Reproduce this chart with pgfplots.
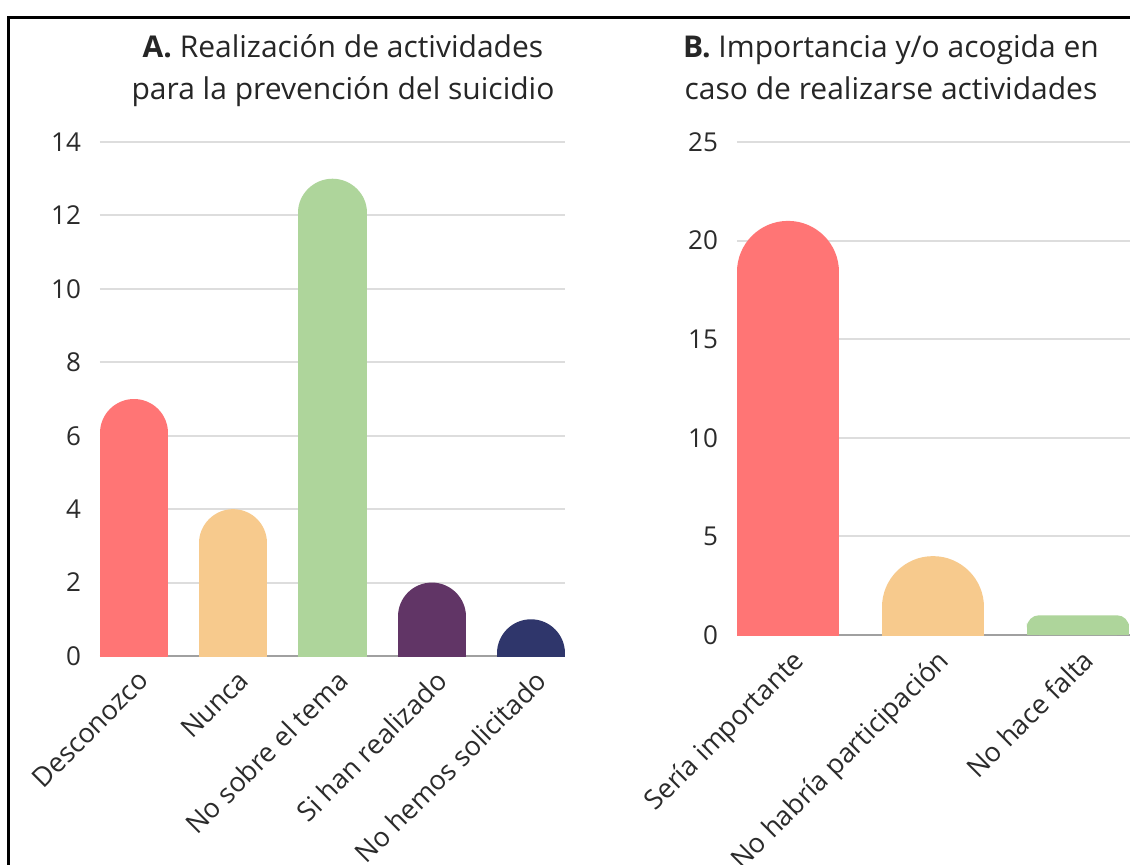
\documentclass[border=0pt]{standalone}
\usepackage{fontspec}
\setmainfont{Open Sans}
\usepackage{pgfplots}
\pgfplotsset{compat=1.18}
\definecolor{cRed}{HTML}{FF7575}
\definecolor{cOrange}{HTML}{F7CA8D}
\definecolor{cGreen}{HTML}{AED59B}
\definecolor{cPurple}{HTML}{613566}
\definecolor{cNavy}{HTML}{2F366B}
\definecolor{cText}{HTML}{2B2B2B}
\definecolor{cGrid}{HTML}{DDDDDD}
\definecolor{cAxis}{HTML}{A0A0A0}
\pgfplotsset{
  mystyle/.style={
    scale only axis,
    ymin=0,
    axis lines*=left,
    axis line style={-},
    y axis line style={draw=none},
    x axis line style={draw=cAxis, line width=1pt},
    ymajorgrids, grid style={draw=cGrid, line width=1pt},
    major tick length=0pt,
    tick style={draw=none},
    /pgf/number format/assume math mode=true,
    yticklabel style={font=\fontsize{13}{15}\selectfont, text=cText, xshift=-6pt},
    xticklabel style={rotate=45, anchor=north east, font=\fontsize{13.5}{15}\selectfont, text=cText, yshift=-2pt},
    enlargelimits=false,
    clip=true,
  }
}
\begin{document}
\begin{tikzpicture}
\path[use as bounding box, clip] (0,0) rectangle (565pt,432pt);
\fill[white] (0,0) rectangle (565pt,432pt);
\draw[black, line width=1.5pt] (4pt,-2pt) -- (4pt,423pt) -- (570pt,423pt);
% titles
\node[anchor=base, font=\fontsize{15}{18}\selectfont, text=black!85] at (171.5pt,403pt) {\textbf{A.} Realización de actividades};
\node[anchor=base, font=\fontsize{15}{18}\selectfont, text=black!85] at (171.5pt,382pt) {para la prevención del suicidio};
\node[anchor=base, font=\fontsize{15}{18}\selectfont, text=black!85] at (445.5pt,403pt) {\textbf{B.} Importancia y/o acogida en};
\node[anchor=base, font=\fontsize{15}{18}\selectfont, text=black!85] at (445.5pt,382pt) {caso de realizarse actividades};

\begin{axis}[mystyle,
  width=232.5pt, height=257pt,
  at={(50pt,104pt)}, anchor=south west,
  xmin=-0.343, xmax=4.343, ymax=14,
  ytick={0,2,...,14}, xtick={0,1,2,3,4},
  xticklabels={Desconozco,Nunca,No sobre el tema,Si han realizado,No hemos solicitado},
]
\addplot[ycomb, mark=none, draw=cRed, line width=34pt, line cap=round, yshift=-17pt] coordinates {(0,7)};
\addplot[ycomb, mark=none, draw=cOrange, line width=34pt, line cap=round, yshift=-17pt] coordinates {(1,4)};
\addplot[ycomb, mark=none, draw=cGreen, line width=34pt, line cap=round, yshift=-17pt] coordinates {(2,13)};
\addplot[ycomb, mark=none, draw=cPurple, line width=34pt, line cap=round, yshift=-17pt] coordinates {(3,2)};
\addplot[ycomb, mark=none, draw=cNavy, line width=34pt, line cap=round, yshift=-17pt] coordinates {(4,1)};
\end{axis}

\begin{axis}[mystyle,
  width=196.5pt, height=246.5pt,
  at={(368.5pt,114.5pt)}, anchor=south west,
  xmin=-0.352, xmax=2.359, ymax=25,
  ytick={0,5,...,25}, xtick={0,1,2},
  xticklabels={Sería importante,No habría participación,No hace falta},
]
\addplot[ycomb, mark=none, draw=cRed, line width=51pt, line cap=round, yshift=-25.5pt] coordinates {(0,21)};
\addplot[ycomb, mark=none, draw=cOrange, line width=51pt, line cap=round, yshift=-25.5pt] coordinates {(1,4)};
\addplot[ybar, bar width=51pt, bar shift=0pt, fill=cGreen, draw=none, rounded corners=6pt] coordinates {(2,1)};
\addplot[ybar, bar width=51pt, bar shift=0pt, fill=cGreen, draw=none] coordinates {(2,0.5)};
\end{axis}
\end{tikzpicture}
\end{document}
